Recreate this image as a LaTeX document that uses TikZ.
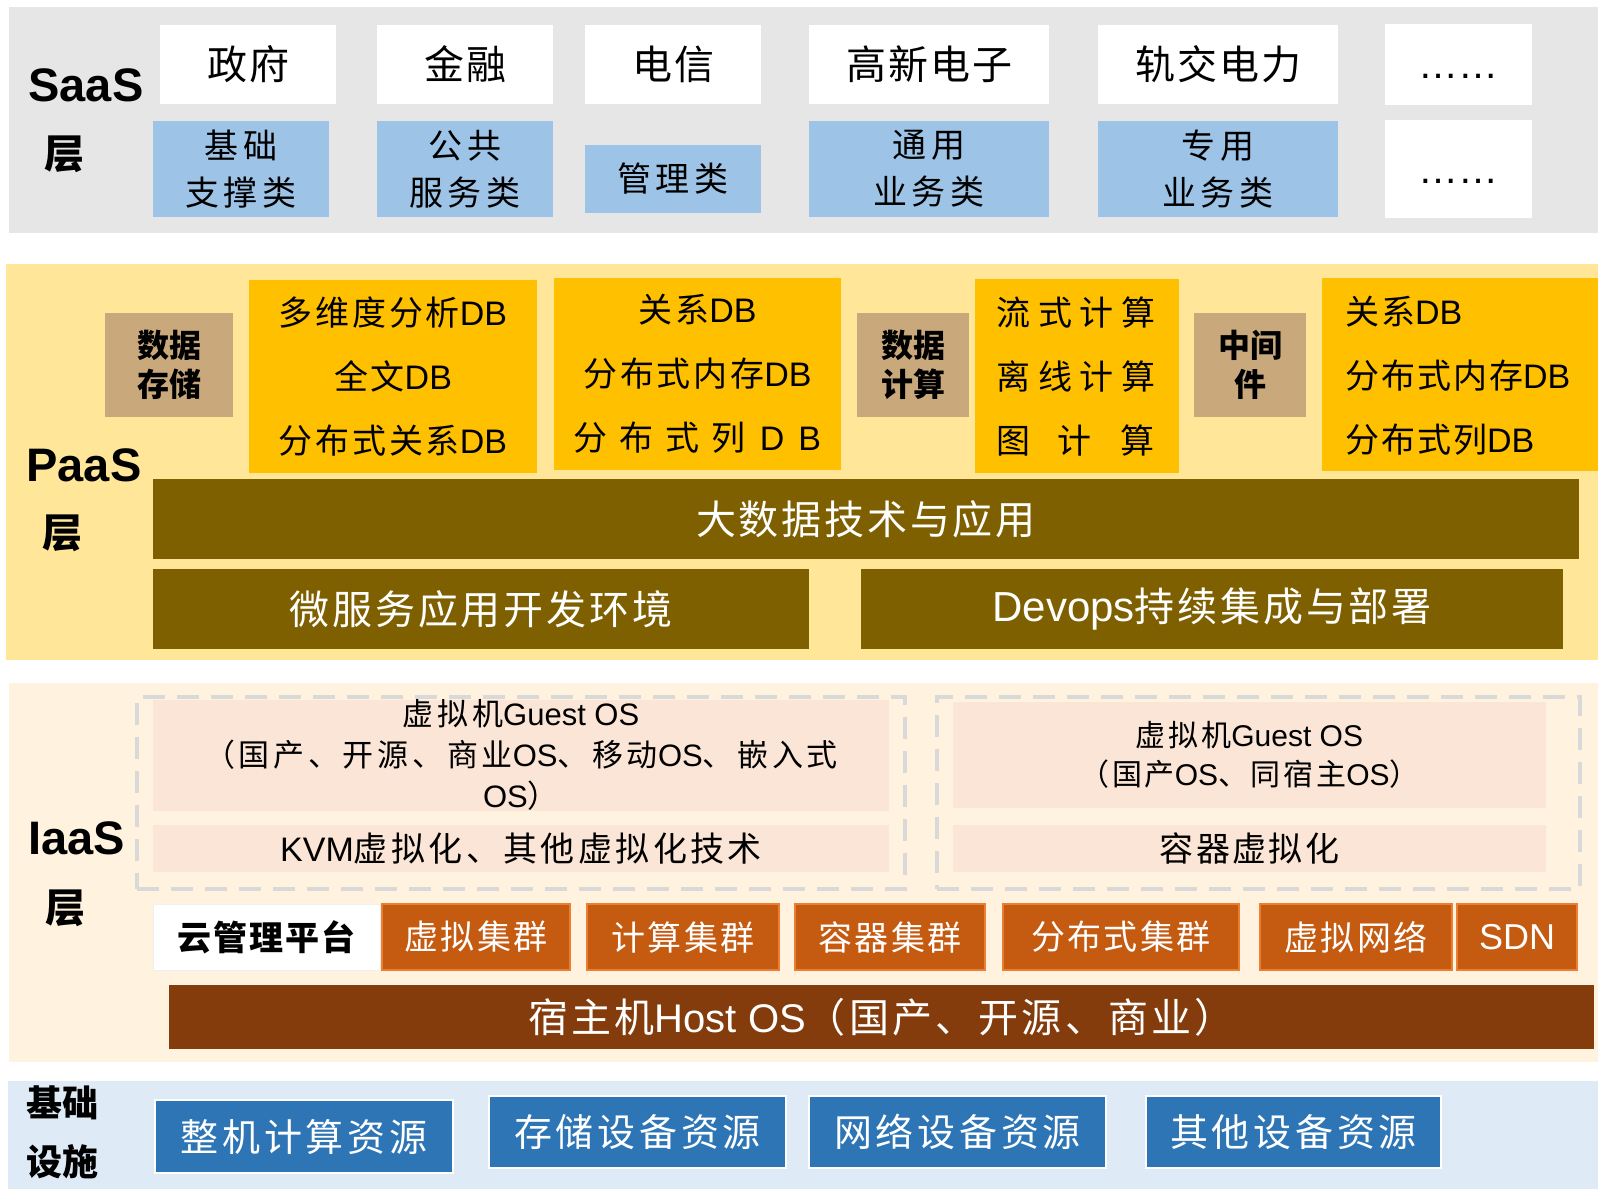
\documentclass[tikz,border=0pt]{standalone}
\usepackage{fontspec}
\setmainfont{Noto Sans CJK SC}
\newfontfamily\lat{Liberation Sans}
\definecolor{saasbg}{HTML}{E7E6E6}
\definecolor{lblue}{HTML}{9DC3E6}
\definecolor{paasbg}{HTML}{FFE699}
\definecolor{tanbox}{HTML}{C9A97C}
\definecolor{goldbox}{HTML}{FFC000}
\definecolor{olivebar}{HTML}{7F6000}
\definecolor{iaasbg}{HTML}{FFF3E0}
\definecolor{pinkb}{HTML}{FBE5D6}
\definecolor{dashg}{HTML}{D9D9D9}
\definecolor{clusfill}{HTML}{C55A11}
\definecolor{clusline}{HTML}{ED7D31}
\definecolor{hostc}{HTML}{843C0C}
\definecolor{infbg}{HTML}{DEEBF7}
\definecolor{resb}{HTML}{2E75B6}
\newcommand\fs[2]{\fontsize{#1}{#2}\selectfont}
\newcommand\ls[1]{\addfontfeature{LetterSpace=#1}}
\newcommand\bx[7]{\node[#6, minimum width={(#4)-(#2)}, minimum height={(#5)-(#3)}] (#1) at ({((#2)+(#4))/2},{((#3)+(#5))/2}) {#7};}
\tikzset{
  base/.style={inner sep=0pt, outer sep=0pt, align=center},
  layerbg/.style={base},
  indus/.style={base, fill=white, font=\ls{5}\fs{40}{48}},
  cat/.style={base, fill=lblue, font=\ls{14}\fs{34}{47}},
  tanb/.style={base, fill=tanbox, font=\bfseries\fs{32}{39}},
  db/.style={base, fill=goldbox, font=\ls{8}\fs{34}{64}},
  dbtext/.style={base, anchor=west, align=left, font=\fs{34}{64}},
  bar/.style={base, fill=olivebar, text=white, font=\ls{7}\fs{40}{46}},
  pink/.style={base, fill=pinkb},
  dashbox/.style={base, draw=dashg, line width=4pt, dash pattern=on 22pt off 12pt},
  clus/.style={base, fill=clusfill, draw=clusline, line width=2pt, text=white, font=\ls{7}\fs{34}{40}},
  host/.style={base, fill=hostc, text=white, font=\ls{8}\fs{40}{48}},
  res/.style={base, fill=resb, draw=white, line width=2pt, text=white, font=\ls{10}\fs{38}{46}},
  lay/.style={base, font=\lat\bfseries\fs{47}{52}},
  ceng/.style={base, font=\bfseries\fs{40}{48}},
}
\begin{document}
\begin{tikzpicture}[x=1pt,y=-1pt]
\path[fill=white] (0,0) rectangle (1598,1189);
\useasboundingbox (0,0) rectangle (1598,1189);

% ---------------- SaaS ----------------
\bx{saas}{9}{7}{1598}{233}{layerbg, fill=saasbg}{}
\node[lay] (saasl) at (86,85) {SaaS};
\node[ceng] (saasc) at (64,154) {层};
\bx{zf}{160}{25}{336}{104}{indus}{政府}
\bx{jr}{377}{25}{553}{104}{indus}{金融}
\bx{dx}{585}{25}{761}{104}{indus}{电信}
\bx{gx}{809}{25}{1049}{104}{indus}{高新电子}
\bx{gj}{1098}{25}{1338}{104}{indus}{轨交电力}
\bx{dots1}{1385}{24}{1532}{105}{indus}{\vphantom{国}{\lat ……}}
\bx{jc}{153}{121}{329}{217}{cat}{基础\\支撑类}
\bx{gg}{377}{121}{553}{217}{cat}{公共\\服务类}
\bx{gl}{585}{145}{761}{213}{cat}{管理类}
\bx{ty}{809}{121}{1049}{217}{cat}{通用\\业务类}
\bx{zy}{1098}{121}{1338}{217}{cat}{专用\\业务类}
\bx{dots2}{1385}{120}{1532}{218}{indus}{\vphantom{国}{\lat ……}}

% ---------------- PaaS ----------------
\bx{paas}{6}{264}{1598}{660}{layerbg, fill=paasbg}{}
\node[lay] (paasl) at (84,465) {PaaS};
\node[ceng] (paasc) at (62,533) {层};
\bx{sjcc}{105}{313}{233}{417}{tanb}{数据\\存储}
\bx{db1}{249}{280}{537}{473}{db}{多维度分析{\lat DB}\\全文{\lat DB}\\分布式关系{\lat DB}}
\bx{db2}{554}{278}{841}{470}{db}{关系{\lat DB}\\分布式内存{\lat DB}\\分\hspace{12pt}布\hspace{12pt}式\hspace{12pt}列\hspace{14pt}{\lat D\hspace{14pt}B}}
\bx{sjjs}{857}{313}{969}{417}{tanb}{数据\\计算}
\bx{lsjs}{975}{279}{1179}{473}{db}{}
\node[dbtext] (lst) at (996,377) {流\hspace{8pt}式\hspace{8pt}计\hspace{8pt}算\\离\hspace{8pt}线\hspace{8pt}计\hspace{8pt}算\\图\hspace{28pt}计\hspace{28pt}算};
\bx{zjj}{1194}{313}{1306}{417}{tanb}{中间\\件}
\bx{db3}{1322}{278}{1598}{471}{db}{}
\node[dbtext, font=\ls{6}\fs{34}{64}] (db3t) at (1345,376) {关系{\lat DB}\\分布式内存{\lat DB}\\分布式列{\lat DB}};
\bx{dsj}{153}{479}{1579}{559}{bar}{大数据技术与应用}
\bx{wfw}{153}{569}{809}{649}{bar}{微服务应用开发环境}
\bx{devops}{861}{569}{1563}{649}{bar}{{\lat\fs{42}{46}Devops}持续集成与部署}

% ---------------- IaaS ----------------
\bx{iaas}{9}{683}{1598}{1062}{layerbg, fill=iaasbg}{}
\node[lay] (iaasl) at (77,838) {IaaS};
\node[ceng] (iaasc) at (65,908) {层};
\bx{dash1}{137}{697}{905}{889}{dashbox}{}
\bx{dash2}{937}{697}{1580}{889}{dashbox}{}
\bx{guest1}{153}{702}{889}{808}{pink, font=\ls{12}\fs{31}{41}}{虚拟机{\lat Guest OS}\\（国产、开源、商业{\lat OS}、移动{\lat OS}、嵌入式\\{\lat OS}）}
\bx{kvm}{153}{825}{889}{872}{pink, font=\ls{10}\fs{34}{40}}{{\lat KVM}虚拟化、其他虚拟化技术}
\bx{guest2}{953}{702}{1546}{808}{pink, font=\ls{9}\fs{30}{39}}{虚拟机{\lat Guest OS}\\（国产{\lat OS}、同宿主{\lat OS}）}
\bx{rqxn}{953}{825}{1546}{872}{pink, font=\ls{7}\fs{34}{40}}{容器虚拟化}
\bx{yun}{153}{904}{380}{970}{base, fill=white, draw=white!94!black, line width=1pt, font=\bfseries\ls{6}\fs{34}{40}}{云管理平台}
\bx{xnjq}{382}{904}{570}{970}{clus}{虚拟集群}
\bx{jsjq}{587}{904}{779}{970}{clus}{计算集群}
\bx{rqjq}{795}{904}{985}{970}{clus}{容器集群}
\bx{fbjq}{1003}{904}{1239}{970}{clus}{分布式集群}
\bx{xnwl}{1260}{904}{1452}{970}{clus}{虚拟网络}
\bx{sdn}{1457}{904}{1577}{970}{clus, font=\lat\fs{36}{40}}{SDN}
\bx{hostos}{169}{985}{1594}{1049}{host}{宿主机{\lat Host OS}（国产、开源、商业）}

% ---------------- Infrastructure ----------------
\bx{infra}{8}{1081}{1598}{1189}{layerbg, fill=infbg}{}
\node[base, font=\bfseries\fs{36}{59}] (infral) at (63,1132) {基础\\设施};
\bx{zjjs}{155}{1100}{453}{1173}{res}{整机计算资源}
\bx{ccsb}{489}{1096}{786}{1168}{res}{存储设备资源}
\bx{wlsb}{809}{1096}{1106}{1168}{res}{网络设备资源}
\bx{qtsb}{1146}{1096}{1441}{1168}{res}{其他设备资源}
\end{tikzpicture}
\end{document}
